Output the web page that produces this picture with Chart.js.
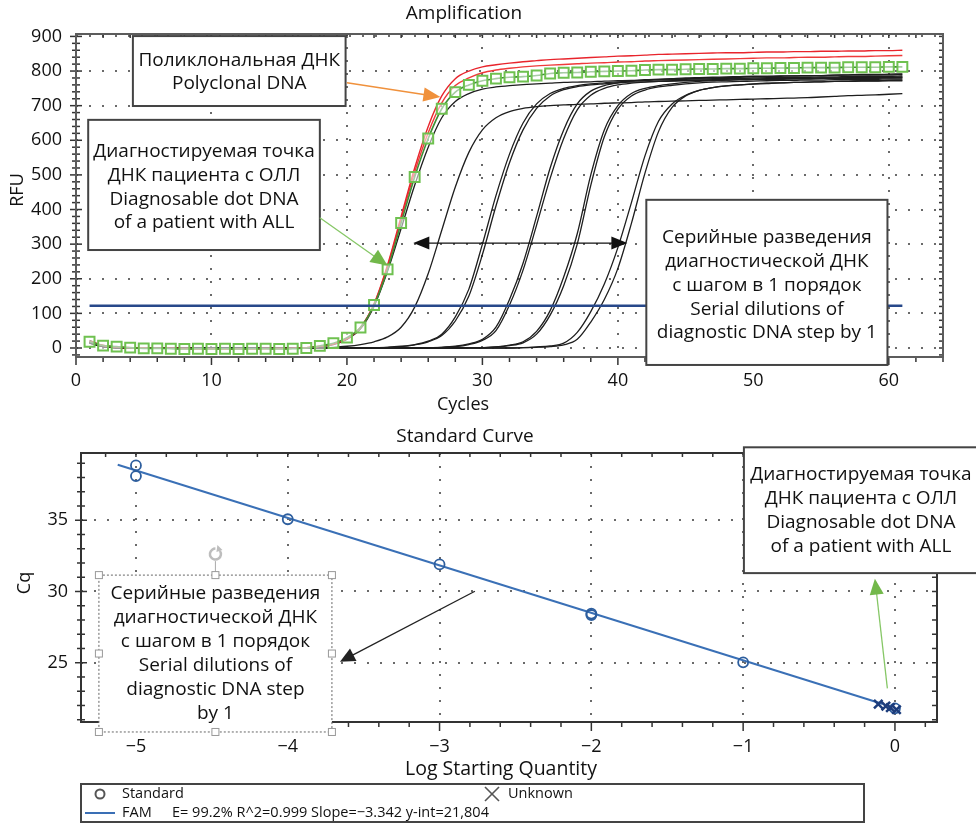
<!DOCTYPE html>
<html>
<head>
<meta charset="utf-8">
<script src="https://cdn.jsdelivr.net/npm/chart.js@4.4.1/dist/chart.umd.min.js"></script>
<style>
html,body{margin:0;padding:0;background:#fff;}
#wrap{position:relative;width:976px;height:825px;}
canvas{position:absolute;left:0;}
#amp{top:0;}
#std{top:420px;}
</style>
</head>
<body>
<div id="wrap">
<canvas id="amp" width="976" height="420"></canvas>
<canvas id="std" width="976" height="405"></canvas>
</div>
<script>
// ---- amplification data (RFU per cycle) ----
const cycles = [
  1,2,3,4,5,6,7,8,9,10,
  11,12,13,14,15,16,17,18,19,20,
  21,22,23,24,25,26,27,28,29,30,
  31,32,33,34,35,36,37,38,39,40,
  41,42,43,44,45,46,47,48,49,50,
  51,52,53,54,55,56,57,58,59,60,
  61];
const patientRFU = [
  18,7,4,1,-1,-1,-2,-3,-2,-3,
  -2,-3,-2,-2,-3,-2,0,6,14,30,
  59,124,227,361,494,605,691,739,760,772,
  778,782,784,787,793,795,796,798,799,800,
  801,803,804,804,805,806,806,807,807,808,
  808,809,809,810,810,810,811,811,811,812,
  812];
const polyRFU1 = [
  20,8,3,1,0,-1,-1,-2,-2,-2,
  -2,-2,-2,-2,-2,-1,1,5,12,28,
  60,128,240,380,520,640,728,778,800,812,
  818,823,827,830,833,835,837,839,841,843,
  844,846,848,849,850,851,852,853,853,854,
  855,855,856,856,857,857,858,858,859,859,
  860];
const polyRFU2 = [
  19,7,3,1,0,-1,-1,-1,-2,-2,
  -2,-2,-2,-1,-1,-1,1,5,11,27,
  58,126,236,372,508,622,708,758,780,795,
  803,808,812,815,817,819,821,823,824,826,
  827,829,830,831,832,833,834,835,836,837,
  838,838,839,840,840,841,842,842,843,844,
  845];
const dil22 = [
  22,6,2,0,-1,-1,-1,-1,-1,-1,
  -1,-1,-1,-1,-1,0,1,4,10,25,
  55,120,222,345,470,580,665,712,735,748,
  754,758,761,763,765,767,768,769,771,772,
  773,775,776,777,778,779,780,781,782,783,
  784,785,786,786,787,788,789,790,790,791,
  792];
const dil25 = [
  18,5,1,0,0,0,0,0,0,0,
  0,0,0,0,0,0,0,1,2,5,
  10,18,32,60,118,215,340,465,565,630,
  665,683,692,697,700,702,704,705,707,708,
  709,711,712,713,714,715,716,717,718,719,
  720,721,722,723,725,727,729,730,731,733,
  735];
const dil28a = [
  16,5,1,0,0,0,0,0,0,0,
  0,0,0,0,0,0,0,0,0,0,
  0,1,2,5,10,20,40,90,170,300,
  440,560,650,705,735,750,758,763,766,769,
  771,773,774,775,776,777,778,779,779,780,
  781,781,782,782,783,783,784,784,785,785,
  786];
const dil28b = [
  15,4,1,0,0,0,0,0,0,0,
  0,0,0,0,0,0,0,0,0,0,
  0,1,2,4,9,18,36,78,150,270,
  410,535,630,692,728,746,755,760,763,766,
  768,769,770,771,772,773,774,774,775,775,
  776,776,777,777,778,778,779,779,779,780,
  780];
const dil32a = [
  17,5,1,0,0,0,0,0,0,0,
  0,0,0,0,0,0,0,0,0,0,
  0,0,0,0,0,1,2,5,12,25,
  60,140,245,380,520,630,705,742,758,766,
  771,774,776,778,780,781,782,783,784,785,
  785,786,786,787,787,788,788,788,789,789,
  790];
const dil32b = [
  14,4,1,0,0,0,0,0,0,0,
  0,0,0,0,0,0,0,0,0,0,
  0,0,0,0,0,1,2,4,10,22,
  50,124,225,355,490,605,688,730,750,760,
  765,768,770,772,773,774,775,776,777,777,
  778,778,779,779,780,780,780,781,781,781,
  782];
const dil35a = [
  16,5,1,0,0,0,0,0,0,0,
  0,0,0,0,0,0,0,0,0,0,
  0,0,0,0,0,0,0,0,1,1,
  3,8,18,48,108,205,330,500,630,700,
  735,750,758,763,767,770,772,774,775,776,
  777,778,779,779,780,780,781,781,782,782,
  783];
const dil35b = [
  15,4,1,0,0,0,0,0,0,0,
  0,0,0,0,0,0,0,0,0,0,
  0,0,0,0,0,0,0,0,1,1,
  3,7,15,40,95,180,300,470,610,690,
  728,745,754,759,763,766,768,769,770,771,
  772,773,773,774,774,775,775,776,776,777,
  777];
const dil38a = [
  17,5,1,0,0,0,0,0,0,0,
  0,0,0,0,0,0,0,0,0,0,
  0,0,0,0,0,0,0,0,0,0,
  0,0,1,3,6,14,45,105,185,290,
  420,555,655,705,730,744,752,757,760,762,
  764,766,767,768,769,770,771,772,772,773,
  774];
const dil38b = [
  14,4,1,0,0,0,0,0,0,0,
  0,0,0,0,0,0,0,0,0,0,
  0,0,0,0,0,0,0,0,0,0,
  0,0,1,2,4,9,25,75,140,230,
  360,505,625,695,728,744,752,757,760,763,
  765,766,767,768,769,770,770,771,771,772,
  772];
const thresholdRFU = 122;
const thresholdCycles = [1, 61];

const ampXTicks = [0, 10, 20, 30, 40, 50, 60];
const ampYTicks = [0, 100, 200, 300, 400, 500, 600, 700, 800, 900];

// ---- standard curve data ----
const stdLogQty = [-5, -5, -4, -3, -2, -2, -1, 0];
const stdCq = [38.85, 38.1, 35.07, 31.9, 28.45, 28.35, 25.03, 21.8];
const unkLogQty = [-0.11, -0.06, -0.03, 0.01];
const unkCq = [22.1, 21.95, 21.85, 21.7];
const fitLogQty = [-5.12, -0.08];
const fitCq = [38.9, 22.1];

const stdXTicks = [-5, -4, -3, -2, -1, 0];
const stdYTicks = [25, 30, 35];

const legendStats = 'E= 99.2% R^2=0.999 Slope=\u22123.342 y-int=21,804';

const FONT = '"Open Sans", "DejaVu Sans", sans-serif';
Chart.defaults.font.family = FONT;
Chart.defaults.color = '#111';

const pts = arr => cycles.map((c, i) => ({x: c, y: arr[i]}));
const minus = v => (v < 0 ? '\u2212' + Math.abs(v) : String(v));

// ---- drawing helpers ----
function seg(ctx, x1, y1, x2, y2) {
  ctx.beginPath(); ctx.moveTo(x1, y1); ctx.lineTo(x2, y2); ctx.stroke();
}
function txt(ctx, s, x, y, size, align, rot) {
  ctx.save();
  ctx.font = size + 'px ' + FONT;
  ctx.fillStyle = '#111';
  ctx.textAlign = align || 'center';
  ctx.textBaseline = 'middle';
  ctx.translate(x, y);
  if (rot) ctx.rotate(rot);
  ctx.fillText(s, 0, 0);
  ctx.restore();
}
function arrow(ctx, x1, y1, x2, y2, o) {
  const ang = Math.atan2(y2 - y1, x2 - x1);
  ctx.save();
  ctx.strokeStyle = o.color; ctx.lineWidth = o.width;
  seg(ctx, x1, y1, x2 - Math.cos(ang) * o.len * 0.7, y2 - Math.sin(ang) * o.len * 0.7);
  ctx.translate(x2, y2); ctx.rotate(ang);
  ctx.beginPath(); ctx.moveTo(0, 0); ctx.lineTo(-o.len, -o.wid / 2); ctx.lineTo(-o.len, o.wid / 2); ctx.closePath();
  ctx.fillStyle = o.head || o.color; ctx.fill();
  ctx.restore();
}
function textBox(ctx, sx, sy, b, lines, o) {
  const l = sx.getPixelForValue(b.x[0]), r = sx.getPixelForValue(b.x[1]);
  const t = sy.getPixelForValue(b.y[0]), btm = sy.getPixelForValue(b.y[1]);
  ctx.save();
  ctx.fillStyle = '#fff';
  ctx.fillRect(l, t, r - l, btm - t);
  ctx.strokeStyle = o.border || '#444';
  ctx.lineWidth = o.bw || 2;
  if (o.dash) ctx.setLineDash(o.dash);
  ctx.strokeRect(l, t, r - l, btm - t);
  ctx.restore();
  const cx = (l + r) / 2, cy = (t + btm) / 2 + (o.dy || 0);
  lines.forEach((s, i) => txt(ctx, s, cx, cy + (i - (lines.length - 1) / 2) * o.lh, o.size));
  return {l, r, t, b: btm};
}

// ---- amplification decorations ----
const ampDecor = {
  id: 'ampDecor',
  beforeDatasetsDraw(chart) {
    const {ctx, chartArea: a, scales: {x, y}} = chart;
    ctx.save();
    ctx.strokeStyle = '#6a6a6a'; ctx.lineWidth = 2; ctx.setLineDash([2, 11]);
    ampXTicks.forEach(v => {
      const px = Math.round(x.getPixelForValue(v));
      if (px > a.left + 3) seg(ctx, px, a.top, px, a.bottom);
    });
    ampYTicks.forEach(v => {
      const py = Math.round(y.getPixelForValue(v));
      seg(ctx, a.left, py, a.right, py);
    });
    ctx.restore();
  },
  afterDatasetsDraw(chart) {
    const {ctx, chartArea: a, scales: {x, y}} = chart;
    ctx.save();
    ctx.strokeStyle = '#333'; ctx.lineWidth = 1.5;
    for (let c = 0; c <= 64; c += 2) {
      const px = x.getPixelForValue(c);
      seg(ctx, px, a.bottom, px, a.bottom + (c % 10 === 0 ? 8 : 5));
      seg(ctx, px, a.top, px, a.top + 4);
    }
    for (let r = -20; r <= 900; r += 20) {
      const py = y.getPixelForValue(r);
      const m = r % 100 === 0 ? 6 : 4;
      seg(ctx, a.left - m, py, a.left + m, py);
      seg(ctx, a.right - 4, py, a.right, py);
    }
    ctx.strokeStyle = '#5c5c5c'; ctx.lineWidth = 2;
    ctx.strokeRect(a.left, a.top, a.right - a.left, a.bottom - a.top);
    ctx.restore();
  },
  afterDraw(chart) {
    const {ctx, scales: {x, y}} = chart;
    txt(ctx, 'Amplification', 464, 14, 19);
    txt(ctx, 'RFU', 18, 190, 18, 'center', -Math.PI / 2);
    txt(ctx, 'Cycles', 463, 405, 18);

    textBox(ctx, x, y, {x: [4.2, 19.9], y: [901, 699]},
      ['Поликлональная ДНК', 'Polyclonal DNA'], {size: 19, lh: 23, dy: 1});
    textBox(ctx, x, y, {x: [0.9, 18.0], y: [659, 283]},
      ['Диагностируемая точка', 'ДНК пациента с ОЛЛ', 'Diagnosable dot DNA', 'of a patient with ALL'],
      {size: 19, lh: 23.7, dy: 2.5});
    textBox(ctx, x, y, {x: [42.1, 59.9], y: [428, -49]},
      ['Серийные разведения', 'диагностической ДНК', 'с шагом в 1 порядок', 'Serial dilutions of', 'diagnostic DNA step by 1'],
      {size: 19, lh: 23.7, dy: 3});

    const X = v => x.getPixelForValue(v), Y = v => y.getPixelForValue(v);
    arrow(ctx, X(20.0), Y(766), X(26.9), Y(725), {color: '#f0913c', width: 1.5, len: 17, wid: 14});
    arrow(ctx, X(18.0), Y(376), X(23.0), Y(238), {color: '#86c766', head: '#72b84a', width: 1.3, len: 17, wid: 15});
    const ay = Y(303);
    arrow(ctx, X(32.8), ay, X(24.9), ay, {color: '#111', width: 1.4, len: 16, wid: 13});
    arrow(ctx, X(32.8), ay, X(40.7), ay, {color: '#111', width: 1.4, len: 16, wid: 13});
  }
};

const blackCurve = (arr) => ({
  data: pts(arr), borderColor: '#1e1e1e', borderWidth: 1.3, pointRadius: 0,
  cubicInterpolationMode: 'monotone', fill: false
});

new Chart(document.getElementById('amp'), {
  type: 'line',
  data: {
    datasets: [
      {data: thresholdCycles.map(c => ({x: c, y: thresholdRFU})), borderColor: '#27488a', borderWidth: 2.6, pointRadius: 0},
      {data: pts(patientRFU), borderColor: '#3d8f35', borderWidth: 1.6, pointStyle: 'rect', pointRadius: 7,
        pointBorderWidth: 2, pointBorderColor: '#6fc150', pointBackgroundColor: 'rgba(255,255,255,0.55)',
        cubicInterpolationMode: 'monotone'},
      {data: pts(polyRFU1), borderColor: '#e8242c', borderWidth: 1.4, pointRadius: 0, cubicInterpolationMode: 'monotone'},
      {data: pts(polyRFU2), borderColor: '#ef3a3a', borderWidth: 1.4, pointRadius: 0, cubicInterpolationMode: 'monotone'},
      blackCurve(dil22), blackCurve(dil25), blackCurve(dil28a), blackCurve(dil28b),
      blackCurve(dil32a), blackCurve(dil32b), blackCurve(dil35a), blackCurve(dil35b),
      blackCurve(dil38a), blackCurve(dil38b)
    ]
  },
  options: {
    responsive: false, animation: false, events: [],
    layout: {padding: {left: 0, right: 33, top: 34, bottom: 0}},
    plugins: {legend: {display: false}, tooltip: {enabled: false}, title: {display: false}},
    scales: {
      x: {
        type: 'linear', min: 0, max: 64,
        grid: {display: false, drawTicks: false}, border: {display: false},
        afterBuildTicks: s => { s.ticks = ampXTicks.map(v => ({value: v})); },
        afterFit: s => { s.height = 63; },
        ticks: {padding: 13, font: {size: 18}, maxRotation: 0, autoSkip: false, callback: v => String(v)}
      },
      y: {
        type: 'linear', min: -26, max: 907,
        grid: {display: false, drawTicks: false}, border: {display: false},
        afterBuildTicks: s => { s.ticks = ampYTicks.map(v => ({value: v})); },
        afterFit: s => { s.width = 76; },
        ticks: {padding: 14, font: {size: 18}, autoSkip: false, callback: v => String(v)}
      }
    }
  },
  plugins: [ampDecor]
});

// ---- standard curve decorations ----
const stdDecor = {
  id: 'stdDecor',
  beforeDatasetsDraw(chart) {
    const {ctx, chartArea: a, scales: {x, y}} = chart;
    ctx.save();
    ctx.strokeStyle = '#6a6a6a'; ctx.lineWidth = 2; ctx.setLineDash([2, 11]);
    stdXTicks.forEach(v => {
      const px = Math.round(x.getPixelForValue(v));
      seg(ctx, px, a.top, px, a.bottom);
    });
    stdYTicks.forEach(v => {
      const py = Math.round(y.getPixelForValue(v));
      seg(ctx, a.left, py, a.right, py);
    });
    ctx.restore();
  },
  afterDatasetsDraw(chart) {
    const {ctx, chartArea: a, scales: {x, y}} = chart;
    ctx.save();
    ctx.strokeStyle = '#333'; ctx.lineWidth = 1.5;
    for (let i = -26; i <= 1; i++) {
      const v = i / 5, px = x.getPixelForValue(v);
      if (px < a.left || px > a.right) continue;
      seg(ctx, px, a.bottom, px, a.bottom + (i % 5 === 0 ? 9 : 5));
      seg(ctx, px, a.top, px, a.top + 4);
    }
    for (let v = 21; v <= 39; v++) {
      const py = y.getPixelForValue(v);
      const m = v % 5 === 0 ? 6 : 4;
      seg(ctx, a.left - m, py, a.left + m, py);
      seg(ctx, a.right - 5, py, a.right, py);
    }
    ctx.strokeStyle = '#333'; ctx.lineWidth = 2;
    ctx.strokeRect(a.left, a.top, a.right - a.left, a.bottom - a.top);
    ctx.restore();
  },
  afterDraw(chart) {
    const {ctx, scales: {x, y}} = chart;
    txt(ctx, 'Standard Curve', 465, 17, 19);
    txt(ctx, 'Cq', 25, 163, 18, 'center', -Math.PI / 2);
    txt(ctx, 'Log Starting Quantity', 501, 349, 19.5);

    const X = v => x.getPixelForValue(v), Y = v => y.getPixelForValue(v);
    // selected text box with handles
    const bx = textBox(ctx, x, y, {x: [-5.244, -3.709], y: [31.15, 20.14]},
      ['Серийные разведения', 'диагностической ДНК', 'с шагом в 1 порядок', 'Serial dilutions of', 'diagnostic DNA step', 'by 1'],
      {size: 19, lh: 24, dy: 0.5, border: '#666', bw: 1, dash: [2, 2]});
    ctx.save();
    const mx = (bx.l + bx.r) / 2, my = (bx.t + bx.b) / 2;
    ctx.strokeStyle = '#aaa'; ctx.lineWidth = 1;
    seg(ctx, mx, bx.t, mx, bx.t - 14);
    [[bx.l, bx.t], [mx, bx.t], [bx.r, bx.t], [bx.l, my], [bx.r, my], [bx.l, bx.b], [mx, bx.b], [bx.r, bx.b]].forEach(([hx, hy]) => {
      ctx.fillStyle = '#fff'; ctx.fillRect(hx - 3.5, hy - 3.5, 7, 7);
      ctx.strokeStyle = '#999'; ctx.strokeRect(hx - 3.5, hy - 3.5, 7, 7);
    });
    const ry = bx.t - 21;
    ctx.strokeStyle = '#bdbdbd'; ctx.lineWidth = 2.5;
    ctx.beginPath(); ctx.arc(mx, ry, 5.5, -0.2 * Math.PI, 1.5 * Math.PI); ctx.stroke();
    ctx.fillStyle = '#bdbdbd';
    ctx.beginPath(); ctx.moveTo(mx + 2, ry - 9); ctx.lineTo(mx + 7, ry - 4); ctx.lineTo(mx + 1, ry - 2); ctx.closePath(); ctx.fill();
    ctx.restore();
    arrow(ctx, X(-2.767), Y(30.02), X(-3.656), Y(25.07), {color: '#222', width: 1.3, len: 15, wid: 14});

    textBox(ctx, x, y, {x: [-0.995, 0.547], y: [40.12, 31.29]},
      ['Диагностируемая точка', 'ДНК пациента с ОЛЛ', 'Diagnosable dot DNA', 'of a patient with ALL'],
      {size: 19, lh: 24, dy: 0});
    arrow(ctx, X(-0.05), Y(23.2), X(-0.132), Y(30.9), {color: '#86c766', head: '#72b84a', width: 1.3, len: 16, wid: 14});

    // legend
    ctx.save();
    ctx.strokeStyle = '#444'; ctx.lineWidth = 2;
    ctx.strokeRect(81, 364, 783, 38);
    ctx.strokeStyle = '#555'; ctx.lineWidth = 2;
    ctx.beginPath(); ctx.arc(100, 374, 4.5, 0, Math.PI * 2); ctx.stroke();
    ctx.lineWidth = 1.6;
    seg(ctx, 485, 367, 499, 381); seg(ctx, 485, 381, 499, 367);
    ctx.strokeStyle = '#3a6fb5'; ctx.lineWidth = 2;
    seg(ctx, 85, 393, 115, 393);
    ctx.font = '14.5px ' + FONT; ctx.fillStyle = '#111'; ctx.textBaseline = 'middle'; ctx.textAlign = 'left';
    ctx.fillText('Standard', 122, 374);
    ctx.fillText('Unknown', 508, 374);
    ctx.fillText('FAM', 122, 393);
    ctx.fillText(legendStats, 172, 393, 318);
    ctx.restore();
  }
};

new Chart(document.getElementById('std'), {
  type: 'scatter',
  data: {
    datasets: [
      {data: unkLogQty.map((v, i) => ({x: v, y: unkCq[i]})), pointStyle: 'crossRot', pointRadius: 6,
        pointBorderWidth: 2.5, pointBorderColor: '#1d3d7c', showLine: false},
      {data: stdLogQty.map((v, i) => ({x: v, y: stdCq[i]})), pointStyle: 'circle', pointRadius: 5,
        pointBorderWidth: 1.8, pointBorderColor: '#2d5e9e', pointBackgroundColor: 'rgba(255,255,255,0)', showLine: false},
      {data: fitLogQty.map((v, i) => ({x: v, y: fitCq[i]})), showLine: true, borderColor: '#3a70b6', borderWidth: 2,
        pointRadius: 0}
    ]
  },
  options: {
    responsive: false, animation: false, events: [],
    layout: {padding: {left: 0, right: 39, top: 33, bottom: 0}},
    plugins: {legend: {display: false}, tooltip: {enabled: false}, title: {display: false}},
    scales: {
      x: {
        type: 'linear', min: -5.362, max: 0.277,
        grid: {display: false, drawTicks: false}, border: {display: false},
        afterBuildTicks: s => { s.ticks = stdXTicks.map(v => ({value: v})); },
        afterFit: s => { s.height = 103; },
        ticks: {padding: 14, font: {size: 18}, maxRotation: 0, autoSkip: false, callback: v => minus(v)}
      },
      y: {
        type: 'linear', min: 20.84, max: 39.72,
        grid: {display: false, drawTicks: false}, border: {display: false},
        afterBuildTicks: s => { s.ticks = stdYTicks.map(v => ({value: v})); },
        afterFit: s => { s.width = 81; },
        ticks: {padding: 13, font: {size: 18}, autoSkip: false, callback: v => String(v)}
      }
    }
  },
  plugins: [stdDecor]
});
</script>
</body>
</html>
